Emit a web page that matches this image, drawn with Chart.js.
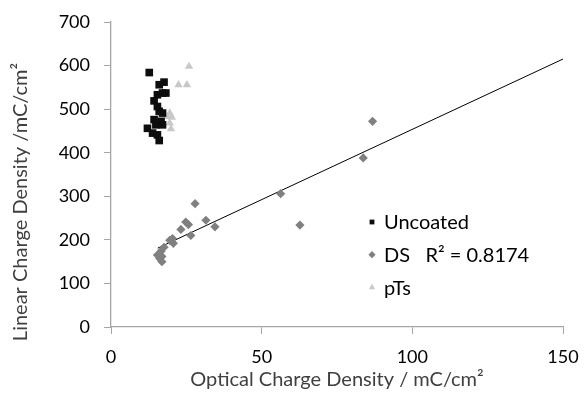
<!DOCTYPE html>
<html>
<head>
<meta charset="utf-8">
<script src="https://cdn.jsdelivr.net/npm/chart.js@4"></script>
<style>
  html, body { margin: 0; padding: 0; background: #fff; }
  #wrap { position: relative; width: 585px; height: 403px; }
</style>
</head>
<body>
<div id="wrap"><canvas id="chart" width="585" height="403"></canvas></div>
<script>
// --- data ---
var uncoatedX = [12.7, 17.6, 16.0, 17.1, 15.4, 18.2, 14.3, 15.4, 16.0, 17.1, 14.3, 16.6, 17.1, 14.9, 12.1, 13.8, 15.4, 16.0];
var uncoatedY = [584, 562, 556, 537, 533, 537, 519, 506, 495, 491, 476, 472, 464, 464, 456, 445, 441, 428];

var dsX = [27.9, 56.3, 62.7, 31.5, 34.5, 24.8, 25.7, 23.2, 26.5, 20.4, 19.5, 20.7, 17.6, 16.6, 15.4, 16.2, 16.9, 16.9, 83.7, 86.8];
var dsY = [283, 306, 234, 245, 230, 241, 235, 224, 210, 203, 199, 192, 183, 174, 165, 157, 150, 162, 388, 472];

var ptsX = [25.9, 22.4, 25.2, 19.5, 20.2, 19.5, 19.9, 18.7];
var ptsY = [598, 556, 556, 491, 481, 468, 455, 483];

// trendline for DS (Excel linear fit), end points
var trendX = [15.5, 150];
var trendY = [181, 615];

var xTicks = [0, 50, 100, 150];
var yTicks = [0, 100, 200, 300, 400, 500, 600, 700];

var xTitle = 'Optical Charge Density / mC/cm\u00b2';
var yTitle = 'Linear Charge Density /mC/cm\u00b2';

var FONT = 'Lato, "Open Sans", sans-serif';
var AXIS_GREY = '#a6a6a6';

function toPoints(xs, ys) {
    var out = [];
    for (var i = 0; i < xs.length; i++) out.push({ x: xs[i], y: ys[i] });
    return out;
}

// legend inside the plot, drawn with the chart's own point shapes
var legendEntries = [
    { text: 'Uncoated', style: 'rect', color: '#0d0d0d', r: 3.4 },
    { text: 'DS   R\u00b2 = 0.8174', style: 'rectRot', color: '#808080', r: 3.6 },
    { text: 'pTs', style: 'triangle', color: '#c8c8c8', r: 3.6 }
];
var extras = {
    id: 'extras',
    afterDraw: function(chart) {
        var ctx = chart.ctx;
        var area = chart.chartArea;
        ctx.save();
        ctx.font = '20px ' + FONT;
        ctx.textBaseline = 'middle';
        for (var i = 0; i < legendEntries.length; i++) {
            var e = legendEntries[i];
            var y = 222 + i * 32.7;
            ctx.fillStyle = e.color;
            ctx.strokeStyle = e.color;
            Chart.helpers.drawPoint(ctx, { pointStyle: e.style, radius: e.r, borderWidth: 0 }, 372, y);
            ctx.fillStyle = '#000';
            ctx.fillText(e.text, 384, y + 1);
        }
        // axis titles
        ctx.fillStyle = '#404040';
        ctx.textAlign = 'center';
        ctx.fillText(xTitle, (area.left + area.right) / 2, 380);
        ctx.translate(21, 202);
        ctx.rotate(-Math.PI / 2);
        ctx.fillText(yTitle, 0, 0);
        ctx.restore();
    }
};

new Chart(document.getElementById('chart'), {
    type: 'scatter',
    data: {
        datasets: [
            { label: 'Uncoated', data: toPoints(uncoatedX, uncoatedY), pointStyle: 'rect', pointRadius: 5.4,
              backgroundColor: '#0d0d0d', borderColor: '#0d0d0d', borderWidth: 0 },
            { label: 'DS', data: toPoints(dsX, dsY), pointStyle: 'rectRot', pointRadius: 4.6,
              backgroundColor: '#808080', borderColor: '#808080', borderWidth: 0 },
            { label: 'pTs', data: toPoints(ptsX, ptsY), pointStyle: 'triangle', pointRadius: 4.8,
              backgroundColor: '#c8c8c8', borderColor: '#c8c8c8', borderWidth: 0 },
            { label: 'trend', data: toPoints(trendX, trendY), showLine: true, pointRadius: 0,
              borderColor: '#000', borderWidth: 1 }
        ]
    },
    options: {
        responsive: false,
        animation: false,
        layout: { padding: { left: 0, right: 22, top: 22, bottom: 0 } },
        plugins: { legend: { display: false }, tooltip: { enabled: false } },
        scales: {
            x: {
                type: 'linear', min: 0, max: 150,
                afterBuildTicks: function(s) { s.ticks = xTicks.map(function(v) { return { value: v }; }); },
                afterFit: function(s) { s.height = 76; s.paddingLeft = 0; s.paddingRight = 0; },
                grid: { drawOnChartArea: false, tickLength: 7, color: AXIS_GREY },
                border: { color: AXIS_GREY, width: 1.3 },
                ticks: { font: { family: FONT, size: 18 }, color: '#000', padding: 12, maxRotation: 0 }
            },
            y: {
                type: 'linear', min: 0, max: 700,
                afterBuildTicks: function(s) { s.ticks = yTicks.map(function(v) { return { value: v }; }); },
                afterFit: function(s) { s.width = 111; s.paddingTop = 0; s.paddingBottom = 0; },
                grid: { drawOnChartArea: false, tickLength: 7, color: AXIS_GREY },
                border: { color: AXIS_GREY, width: 1.3 },
                ticks: { font: { family: FONT, size: 18 }, color: '#000', padding: 14 }
            }
        }
    },
    plugins: [extras]
});
</script>
</body>
</html>
